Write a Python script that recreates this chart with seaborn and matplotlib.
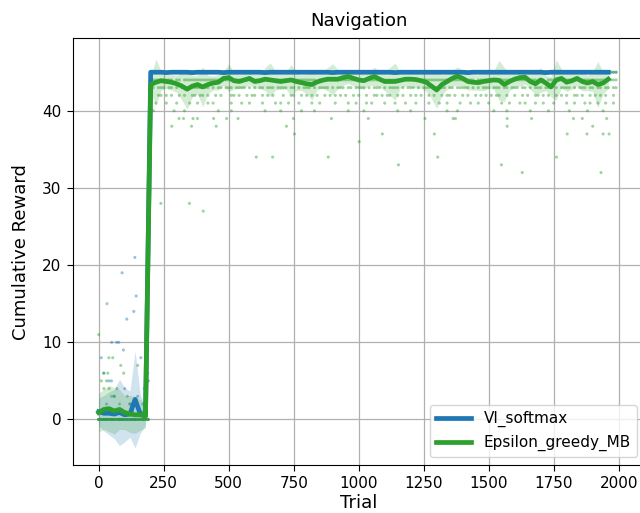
import numpy as np
import pandas as pd
import matplotlib
matplotlib.use("Agg")
import matplotlib.pyplot as plt
import seaborn as sns

agents = ["VI_softmax", "Epsilon_greedy_MB"]
palette = {"VI_softmax": "#1f77b4", "Epsilon_greedy_MB": "#2ca02c"}

# binned mean reward, one bin per 20 trials (bin start 0 .. 1960)
bin_starts = list(range(0, 1980, 20))

vi_mean = [1.0, 0.8, 0.8, 0.7, 0.9, 0.6, 0.7, 2.6, 0.7, 0.5,
           45.0, 45.0, 45.0, 44.95, 45.0, 45.0, 45.0, 45.0, 44.95, 45.0,
           45.0, 45.0, 45.0, 45.0, 44.95, 45.0, 45.0, 45.0, 45.0, 45.0,
           45.0, 45.0, 44.95, 45.0, 45.0, 45.0, 45.0, 45.0, 45.0, 45.0,
           45.0, 45.0, 45.0, 45.0, 45.0, 44.95, 45.0, 45.0, 45.0, 45.0,
           45.0, 45.0, 45.0, 45.0, 45.0, 45.0, 45.0, 44.95, 45.0, 45.0,
           45.0, 45.0, 45.0, 45.0, 45.0, 45.0, 45.0, 45.0, 45.0, 45.0,
           45.0, 44.95, 45.0, 45.0, 45.0, 45.0, 45.0, 45.0, 45.0, 45.0,
           45.0, 45.0, 45.0, 45.0, 45.0, 45.0, 44.95, 45.0, 45.0, 45.0,
           45.0, 45.0, 45.0, 45.0, 45.0, 45.0, 45.0, 45.0, 45.0]
vi_ci = [1.8, 2.3, 2.8, 3.2, 4.3, 3.5, 3.0, 6.3, 2.5, 1.2] + [0.1] * 89

eg_mean = [0.9, 1.3, 1.4, 1.1, 1.3, 0.9, 0.7, 0.6, 0.6, 0.4,
           43.4, 43.7, 43.9, 43.8, 43.7, 43.5, 43.2, 42.8, 43.2, 43.4,
           43.1, 43.4, 43.6, 43.7, 44.2, 44.3, 43.9, 43.8, 44.0, 44.2,
           43.8, 43.9, 44.1, 44.0, 43.9, 43.8, 43.9, 44.0, 43.8, 43.65,
           43.5, 43.4, 43.75, 43.95, 44.1, 44.1, 44.1, 44.3, 44.45, 44.2,
           44.0, 43.9, 44.2, 44.45, 44.1, 43.8, 43.8, 43.8, 43.95, 44.1,
           44.1, 44.05, 43.9, 43.7, 43.2, 42.7, 43.4, 43.8, 44.2, 44.5,
           44.2, 43.8, 43.7, 43.65, 43.8, 43.9, 44.0, 43.95, 43.4, 43.8,
           44.1, 44.3, 44.35, 43.8, 43.5, 44.0, 43.6, 43.1, 44.0, 44.2,
           43.7, 43.9, 44.2, 43.8, 43.6, 43.8, 43.4, 43.6, 44.1]
eg_ci = [2.5, 2.6, 3.0, 3.0, 2.6, 2.2, 2.4, 2.4, 2.0, 1.5,
         1.0, 3.0, 1.2, 0.9, 1.0, 1.1, 1.8, 2.6, 1.4, 1.2,
         2.6, 1.2, 0.9, 1.0, 0.9, 1.8, 1.1, 0.9, 1.0, 0.8,
         0.9, 1.0, 1.5, 2.2, 1.2, 1.0, 1.1, 2.0, 1.2, 1.0,
         1.3, 2.0, 1.0, 1.0, 1.5, 2.0, 1.2, 1.0, 0.9, 1.0,
         1.0, 1.1, 0.9, 1.2, 1.0, 1.2, 1.8, 2.4, 1.0, 0.9,
         1.0, 1.1, 1.0, 1.2, 1.6, 2.4, 1.3, 1.0, 1.0, 1.2,
         1.0, 1.1, 1.0, 1.0, 1.2, 1.0, 1.2, 2.6, 2.2, 1.2,
         1.0, 1.1, 0.9, 1.0, 1.4, 1.6, 1.0, 1.3, 2.6, 1.2,
         1.2, 1.1, 1.0, 1.2, 1.0, 1.3, 3.0, 1.4, 1.2]

# single-run rewards, one slot per 10 trials (200 .. 1990), '#' = a dot
late_trials = list(range(200, 2000, 10))
eg_rows = {
    45: ["##########", "##########", "#########.", "##########", "##########", "##########",
         "##########", "##.#######", "##########", "##########", "##########", "#########.",
         "##########", "##########", "##########", "##########", "##########", "##########"],
    44: ["#########.", "##.#######", "##########", "#.########", "#######.##", "##########",
         "####.#####", "##########", "###.######", "##########", ".#########", "##########",
         "#####.####", "##########", "#########.", "##.#######", "##########", "##########"],
    43: ["##.###.##.", "#.###.####", "###.#.##.#", "##.####.#.", "#.##.###.#", "###.##.#.#",
         "##.#.####.", "#.###.##.#", "###.#.###.", "#.####.#.#", "##.#.###.#", "#.##.##.##",
         "###.#.#.##", "#.###.##.#", "##.##.#.##", "#.###.#.##", "##.#.###.#", "#.##.##.##"],
    42: ["#..##.#.#.", ".#.#..##.#", "#.#..#.#..", ".##.#..#.#", "#..#.#.#..", ".#..##..#.",
         "#.#.#..#.#", ".#.#.#..#.", "#..#..##.#", ".##..#.#..", "#.#.#..#.#", "..#.##.#..",
         "#.#..#.#.#", ".#.##..#..", "#..#.#..##", ".#.#..#.#.", "#..##.#..#", ".#.#.#..#."],
    41: ["..#...#...", "#....#..#.", "..#.#.....", ".#...#..#.", "...#....#.", "#..#...#..",
         "..#..#....", ".#....#..#", "...#.#....", "#...#...#.", "..#....#..", ".#..#....#",
         "...#..#...", "#....#..#.", "..#.#...#.", ".#...#....", "#..#...#.#", "..#..#..#."],
    40: [".#.......#", "...#......", "......#...", ".#........", "....#.....", "#.......#.",
         "...#......", "......#...", "..#.......", ".....#....", "#.........", "....#...#.",
         "..........", "..#....#..", "......#...", "...#......", ".#......#.", "....#....."],
}
vi_rows = {45: ["##########"] * 18}

# sparse low rewards after learning (Epsilon_greedy_MB)
eg_low_trials = [309, 326, 363, 380, 442, 492, 536, 749, 895, 1037, 1255, 1363, 1372, 1571, 1665,
                 1826, 1860, 1954,
                 281, 357, 452, 722, 1571, 1900,
                 753, 1091, 1291, 1802, 1878, 1940, 1963,
                 1002,
                 606, 669, 883, 1304, 1761,
                 1153, 1549,
                 1629, 1932,
                 239, 349, 402]
eg_low_vals = [39] * 18 + [38] * 6 + [37] * 7 + [36] + [34] * 5 + [33] * 2 + [32] * 2 + [28, 28, 27]

# early trials (< 200), one slot per 10 trials; runs sitting at zero reward
early_trials = list(range(0, 200, 10))
vi_zero_runs = [1, 1, 2, 1, 1, 2, 1, 1, 1, 2, 1, 1, 1, 2, 1, 1, 1, 2, 1, 1]
eg_zero_runs = [3, 3, 3, 4, 3, 3, 3, 3, 4, 3, 3, 3, 3, 3, 4, 3, 3, 3, 3, 3]
vi_early_t = [10, 19, 39, 49, 50, 69, 77, 90, 95, 108, 135, 139, 144, 162, 190,
              5, 30, 60, 100, 120, 150, 170, 25, 70, 130, 175, 185]
vi_early_v = [8, 6, 5, 5, 10, 10, 10, 19, 9, 13, 14, 21, 16, 8, 5,
              1, 2, 3, 4, 2, 3, 2, 1, 1, 1, 4, 1]
eg_early_t = [0, 32, 39, 54, 85, 96, 150, 189, 10, 20, 30, 40, 60, 80, 110, 130, 170, 190,
              20, 35, 50, 70, 120, 160]
eg_early_v = [11, 15, 8, 8, 7, 6, 7, 6, 5, 4, 5, 4, 3, 2, 3, 2, 1, 5,
              6, 6, 3, 4, 2, 1]


def build_points(agent, rows, low_t, low_v, zero_runs, early_t, early_v):
    recs = []
    for val, groups in rows.items():
        mask = "".join(groups)
        for t, c in zip(late_trials, mask):
            if c == "#":
                recs.append((agent, t, val))
    for t, v in zip(low_t, low_v):
        recs.append((agent, t, v))
    for t, n in zip(early_trials, zero_runs):
        recs.extend([(agent, t, 0)] * n)
    for t, v in zip(early_t, early_v):
        recs.append((agent, t, v))
    return recs


points = pd.DataFrame(
    build_points("VI_softmax", vi_rows, [], [], vi_zero_runs, vi_early_t, vi_early_v)
    + build_points("Epsilon_greedy_MB", eg_rows, eg_low_trials, eg_low_vals,
                   eg_zero_runs, eg_early_t, eg_early_v),
    columns=["agent", "trial", "reward"],
)

means = pd.DataFrame({
    "trial": bin_starts * 2,
    "reward": vi_mean + eg_mean,
    "ci": vi_ci + eg_ci,
    "agent": ["VI_softmax"] * len(bin_starts) + ["Epsilon_greedy_MB"] * len(bin_starts),
})

fig = plt.figure(figsize=(6.4, 5.13), dpi=100)
ax = fig.add_axes([0.1136, 0.0936, 0.8933, 0.8318])

sns.scatterplot(data=points, x="trial", y="reward", hue="agent", hue_order=agents,
                palette=palette, s=5, alpha=0.45, linewidth=0,
                legend=False, ax=ax)

for agent in agents:
    d = means[means["agent"] == agent]
    sns.lineplot(data=d, x="trial", y="reward", color=palette[agent], lw=3.4,
                 label=agent, ax=ax)
    ax.fill_between(d["trial"], d["reward"] - d["ci"], d["reward"] + d["ci"],
                    color=palette[agent], alpha=0.2, linewidth=0)

ax.set_xlim(-100, 2099)
ax.set_ylim(-5.9, 49.4)
ax.set_xticks([0, 250, 500, 750, 1000, 1250, 1500, 1750, 2000])
ax.set_yticks([0, 10, 20, 30, 40])
ax.tick_params(labelsize=11, length=4, pad=4)
ax.grid(True, color="#b0b0b0", linewidth=0.9)
ax.set_axisbelow(True)
ax.set_title("Navigation", fontsize=13, pad=9)
ax.set_xlabel("Trial", fontsize=13, labelpad=2)
ax.set_ylabel("Cumulative Reward", fontsize=13, labelpad=9)
ax.legend(loc="lower right", fontsize=11, handlelength=2.3)

fig.savefig("out.png", dpi=100)
